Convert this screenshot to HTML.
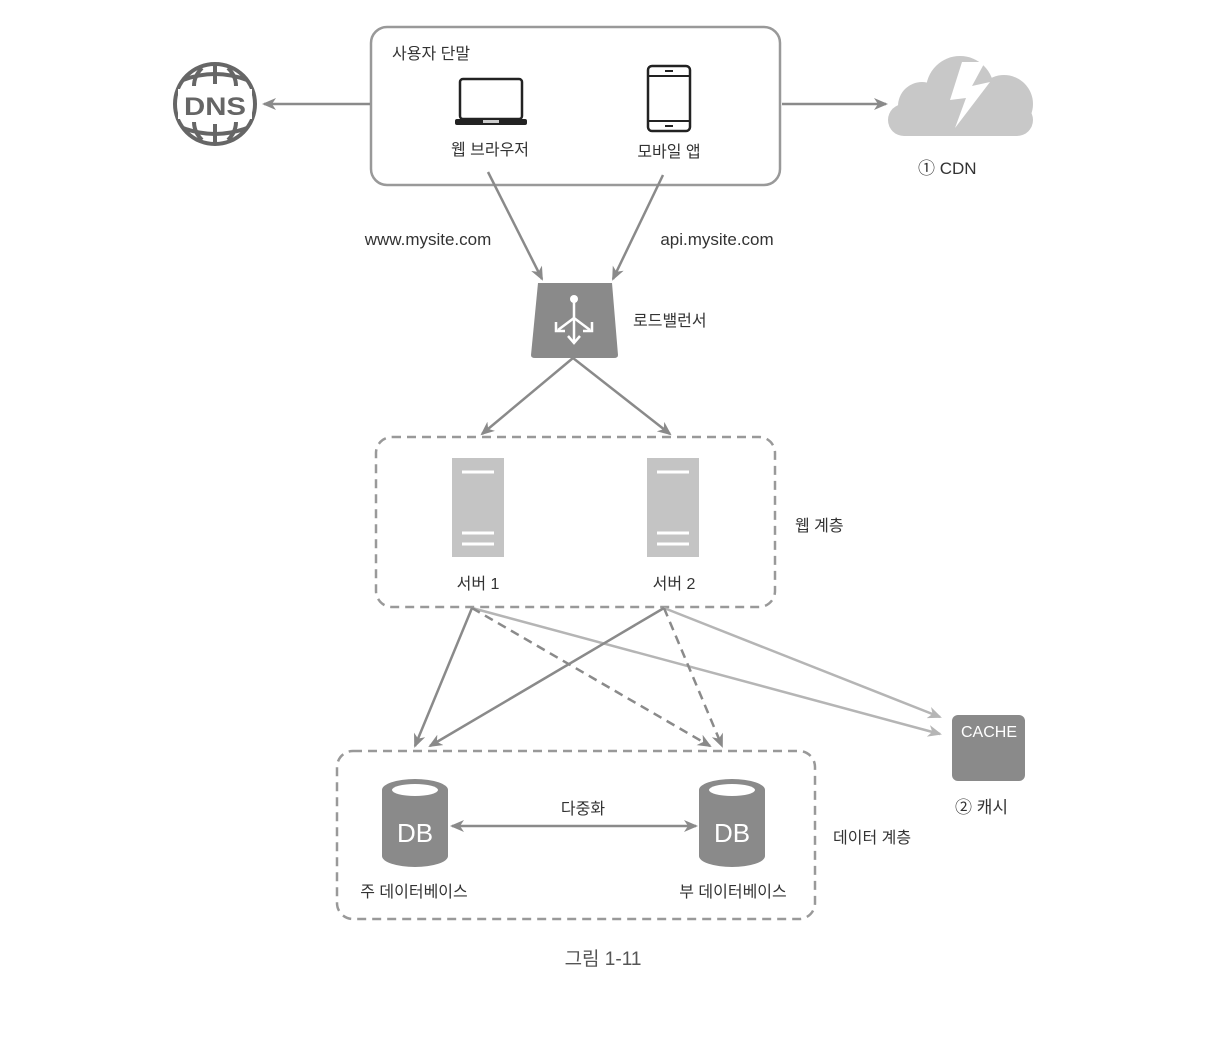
<!DOCTYPE html>
<html><head><meta charset="utf-8"><style>
body{margin:0;background:#fff}
svg text{font-family:"Liberation Sans","Noto Sans CJK KR",sans-serif;fill:#333}
</style></head><body>
<svg width="1228" height="1042" viewBox="0 0 1228 1042" xmlns="http://www.w3.org/2000/svg">
<defs>
<marker id="a" markerWidth="14" markerHeight="12" refX="12" refY="6" orient="auto" markerUnits="userSpaceOnUse"><path d="M0,0 L14,6 L0,12 L4,6z" fill="#8a8a8a"/></marker>
<marker id="b" markerWidth="14" markerHeight="12" refX="12" refY="6" orient="auto" markerUnits="userSpaceOnUse"><path d="M0,0 L14,6 L0,12 L4,6z" fill="#b5b5b5"/></marker>
<marker id="s" markerWidth="14" markerHeight="12" refX="2" refY="6" orient="auto" markerUnits="userSpaceOnUse"><path d="M14,0 L0,6 L14,12 L10,6z" fill="#8a8a8a"/></marker>
</defs>
<rect x="371" y="27" width="409" height="158" rx="16" fill="none" stroke="#999" stroke-width="2.5"/>
<text x="392" y="59" font-size="16">사용자 단말</text>
<rect x="460" y="79" width="62" height="40" rx="3" fill="none" stroke="#222" stroke-width="2.5"/>
<rect x="455" y="119" width="72" height="6" rx="2" fill="#222"/>
<rect x="483" y="120" width="16" height="3" fill="#ccc"/>
<text x="490" y="155" font-size="16" text-anchor="middle">웹 브라우저</text>
<rect x="648" y="66" width="42" height="65" rx="4" fill="none" stroke="#222" stroke-width="2.5"/>
<line x1="648" y1="76" x2="690" y2="76" stroke="#222" stroke-width="2"/>
<line x1="648" y1="121" x2="690" y2="121" stroke="#222" stroke-width="2"/>
<rect x="665" y="70" width="8" height="2" fill="#222"/><rect x="665" y="125" width="8" height="2" fill="#222"/>
<text x="669" y="157" font-size="16" text-anchor="middle">모바일 앱</text>
<g stroke="#666" stroke-width="4" fill="none">
<circle cx="215" cy="104" r="40"/>
<path d="M183,80 Q215,68 247,80 M183,128 Q215,140 247,128"/>
<path d="M215,64 L215,84 M215,124 L215,144 M202,68 Q194,76 194,86 M228,68 Q236,76 236,86 M202,140 Q194,132 194,122 M228,140 Q236,132 236,122"/>
</g>
<rect x="178" y="89" width="74" height="30" fill="#fff"/>
<text x="215" y="115" font-size="25" text-anchor="middle" font-weight="bold" textLength="62" lengthAdjust="spacingAndGlyphs" style="fill:#666">DNS</text>
<line x1="370" y1="104" x2="264" y2="104" stroke="#8a8a8a" stroke-width="2.5" marker-end="url(#a)"/>
<line x1="782" y1="104" x2="886" y2="104" stroke="#8a8a8a" stroke-width="2.5" marker-end="url(#a)"/>
<g fill="#c8c8c8">
<circle cx="922" cy="106" r="24"/><circle cx="960" cy="90" r="34"/><circle cx="1004" cy="104" r="29"/>
<rect x="888" y="104" width="145" height="32" rx="16"/>
</g>
<path d="M962,62 L950,100 L966,98 L955,128 L990,82 L972,86 L985,62z" fill="#fff"/>
<text x="918" y="174" font-size="17">① CDN</text>
<line x1="488" y1="172" x2="542" y2="279" stroke="#8a8a8a" stroke-width="2.5" marker-end="url(#a)"/>
<line x1="663" y1="175" x2="613" y2="279" stroke="#8a8a8a" stroke-width="2.5" marker-end="url(#a)"/>
<text x="428" y="245" font-size="17" text-anchor="middle">www.mysite.com</text>
<text x="717" y="245" font-size="17" text-anchor="middle">api.mysite.com</text>
<path d="M538,283 L612,283 L618,355 Q618,358 614,358 L535,358 Q531,358 531,355z" fill="#8a8a8a"/>
<g stroke="#fff" stroke-width="2.5" fill="none"><line x1="574" y1="300" x2="574" y2="342"/><line x1="574" y1="318" x2="558" y2="330"/><line x1="574" y1="318" x2="590" y2="330"/>
<path d="M556,322 L556,331 L565,331 M592,322 L592,331 L583,331 M568,336 L574,343 L580,336"/></g>
<circle cx="574" cy="299" r="4" fill="#fff"/>
<text x="633" y="326" font-size="16">로드밸런서</text>
<line x1="573" y1="358" x2="482" y2="434" stroke="#8a8a8a" stroke-width="2.5" marker-end="url(#a)"/>
<line x1="573" y1="358" x2="670" y2="434" stroke="#8a8a8a" stroke-width="2.5" marker-end="url(#a)"/>
<rect x="376" y="437" width="399" height="170" rx="16" fill="none" stroke="#999" stroke-width="2.5" stroke-dasharray="9,6"/>
<text x="795" y="531" font-size="16">웹 계층</text>
<g fill="#c4c4c4"><rect x="452" y="458" width="52" height="99"/><rect x="647" y="458" width="52" height="99"/></g>
<g stroke="#fff" stroke-width="3"><line x1="462" y1="472" x2="494" y2="472"/><line x1="462" y1="533" x2="494" y2="533"/><line x1="462" y1="544" x2="494" y2="544"/>
<line x1="657" y1="472" x2="689" y2="472"/><line x1="657" y1="533" x2="689" y2="533"/><line x1="657" y1="544" x2="689" y2="544"/></g>
<text x="478" y="589" font-size="16" text-anchor="middle">서버 1</text>
<text x="674" y="589" font-size="16" text-anchor="middle">서버 2</text>
<line x1="472" y1="608" x2="940" y2="734" stroke="#b5b5b5" stroke-width="2.5" marker-end="url(#b)"/>
<line x1="664" y1="608" x2="940" y2="717" stroke="#b5b5b5" stroke-width="2.5" marker-end="url(#b)"/>
<line x1="472" y1="608" x2="415" y2="746" stroke="#8a8a8a" stroke-width="2.5" marker-end="url(#a)"/>
<line x1="664" y1="608" x2="430" y2="746" stroke="#8a8a8a" stroke-width="2.5" marker-end="url(#a)"/>
<line x1="472" y1="608" x2="710" y2="746" stroke="#8a8a8a" stroke-width="2.5" stroke-dasharray="9,6" marker-end="url(#a)"/>
<line x1="664" y1="608" x2="722" y2="746" stroke="#8a8a8a" stroke-width="2.5" stroke-dasharray="9,6" marker-end="url(#a)"/>
<rect x="952" y="715" width="73" height="66" rx="6" fill="#8a8a8a"/>
<text x="989" y="737" font-size="16" text-anchor="middle" style="fill:#fff">CACHE</text>
<text x="955" y="813" font-size="17">② 캐시</text>
<rect x="337" y="751" width="478" height="168" rx="16" fill="none" stroke="#999" stroke-width="2.5" stroke-dasharray="9,6"/>
<text x="833" y="843" font-size="16">데이터 계층</text>
<g fill="#8a8a8a">
<rect x="382" y="790" width="66" height="66"/><ellipse cx="415" cy="790" rx="33" ry="11"/><ellipse cx="415" cy="856" rx="33" ry="11"/>
<rect x="699" y="790" width="66" height="66"/><ellipse cx="732" cy="790" rx="33" ry="11"/><ellipse cx="732" cy="856" rx="33" ry="11"/>
</g>
<ellipse cx="415" cy="790" rx="23" ry="6" fill="#fff"/><ellipse cx="732" cy="790" rx="23" ry="6" fill="#fff"/>
<text x="415" y="842" font-size="26" text-anchor="middle" style="fill:#fff">DB</text>
<text x="732" y="842" font-size="26" text-anchor="middle" style="fill:#fff">DB</text>
<line x1="452" y1="826" x2="696" y2="826" stroke="#8a8a8a" stroke-width="2.5" marker-start="url(#s)" marker-end="url(#a)"/>
<text x="583" y="814" font-size="16" text-anchor="middle">다중화</text>
<text x="414" y="897" font-size="16" text-anchor="middle">주 데이터베이스</text>
<text x="733" y="897" font-size="16" text-anchor="middle">부 데이터베이스</text>
<text x="603" y="965" font-size="19" text-anchor="middle" style="fill:#555">그림 1-11</text>
</svg>
</body></html>
